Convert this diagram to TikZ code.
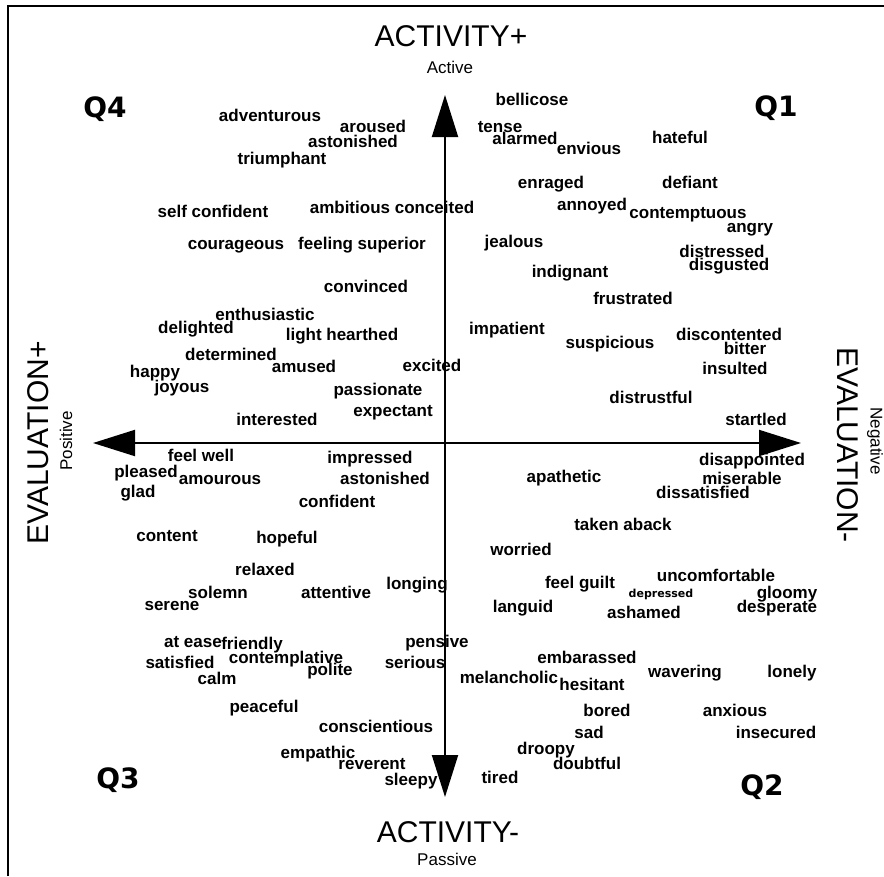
\documentclass[tikz,border=0pt]{standalone}
\usepackage{fontspec}
\setmainfont{Liberation Sans}
\newfontfamily\quadfont{DejaVu Sans}
\usetikzlibrary{arrows.meta}
\tikzset{
        word/.style={font=\bfseries\fontsize{17}{17}\selectfont, anchor=base, inner sep=0pt},
        small word/.style={font=\quadfont\bfseries\fontsize{11}{11}\selectfont, anchor=base, inner sep=0pt},
        quad label/.style={font=\quadfont\bfseries\fontsize{28}{28}\selectfont, anchor=base, inner sep=0pt},
        axis label/.style={font=\fontsize{30}{30}\selectfont, inner sep=0pt},
        pole label/.style={font=\fontsize{17}{17}\selectfont, inner sep=0pt},
        axis/.style={line width=2pt, {Triangle[length=42pt,width=26pt]}-{Triangle[length=42pt,width=26pt]}}
    }

\begin{document}
\begin{tikzpicture}[x=1pt, y=-1pt]
\useasboundingbox (0,0) rectangle (884,876);
% frame: only top and left edges are drawn
\draw[line width=2.2pt] (8,876) -- (8,6) -- (884,6);
% the two axes
\coordinate (west)  at (93,443);
\coordinate (east)  at (801,443);
\coordinate (north) at (445,95);
\coordinate (south) at (445,797);
\draw[axis] (west) -- (east);
\draw[axis] (south) -- (north);
% axis names
\node[axis label] (actplus)  at (451,36)  {ACTIVITY+};
\node[pole label] (active)   at (450,67)  {Active};
\node[axis label] (actminus) at (448,832) {ACTIVITY-};
\node[pole label] (passive)  at (447,859) {Passive};
\node[axis label, rotate=90]  (evalplus)  at (38,443)  {EVALUATION+};
\node[pole label, rotate=90]  (positive)  at (66,441)  {Positive};
\node[axis label, rotate=-90] (evalminus) at (848,445) {EVALUATION-};
\node[pole label, rotate=-90] (negative)  at (875,441) {Negative};
% quadrant names
\node[quad label] (q1) at (776,116) {Q1};
\node[quad label] (q2) at (762,795) {Q2};
\node[quad label] (q3) at (118,788) {Q3};
\node[quad label] (q4) at (105,117) {Q4};
% Q4: active and positive
\foreach \x/\y/\w [count=\i] in {270/121/adventurous, 373/132/aroused, 353/147/astonished,
    282/164/triumphant, 213/217/self confident, 392/213/ambitious conceited, 236/249/courageous,
    362/249/feeling superior, 366/292/convinced, 265/320/enthusiastic, 196/333/delighted,
    342/340/light hearthed, 231/360/determined, 155/377/happy, 182/392/joyous, 304/372/amused,
    432/371/excited, 378/395/passionate, 393/416/expectant, 277/425/interested}
  \node[word] (fourth\i) at (\x,\y) {\w};
% Q1: active and negative
\foreach \x/\y/\w [count=\i] in {532/105/bellicose, 500/132/tense, 525/144/alarmed, 589/154/envious,
    680/143/hateful, 551/188/enraged, 690/188/defiant, 592/210/annoyed, 688/218/contemptuous,
    750/232/angry, 514/247/jealous, 722/257/distressed, 729/270/disgusted, 570/277/indignant,
    633/304/frustrated, 507/334/impatient, 610/348/suspicious, 729/340/discontented, 745/354/bitter,
    735/374/insulted, 651/403/distrustful, 756/425/startled}
  \node[word] (first\i) at (\x,\y) {\w};
% Q3: passive and positive
\foreach \x/\y/\w [count=\i] in {201/461/feel well, 146/477/pleased, 220/484/amourous, 138/497/glad,
    370/463/impressed, 385/484/astonished, 337/507/confident, 167/541/content, 287/543/hopeful,
    265/575/relaxed, 218/598/solemn, 172/610/serene, 336/598/attentive, 417/589/longing,
    193/647/at ease, 252/649/friendly, 180/668/satisfied, 286/663/contemplative, 330/675/polite,
    217/684/calm, 437/647/pensive, 415/668/serious, 264/712/peaceful, 376/732/conscientious,
    318/758/empathic, 372/769/reverent, 411/785/sleepy}
  \node[word] (third\i) at (\x,\y) {\w};
% Q2: passive and negative
\foreach \x/\y/\w [count=\i] in {752/465/disappointed, 564/482/apathetic, 742/484/miserable,
    703/498/dissatisfied, 623/530/taken aback, 521/555/worried, 580/588/feel guilt,
    716/581/uncomfortable, 787/598/gloomy, 523/612/languid, 644/618/ashamed, 777/612/desperate,
    587/663/embarassed, 685/677/wavering, 792/677/lonely, 509/683/melancholic, 592/690/hesitant,
    607/716/bored, 735/716/anxious, 589/738/sad, 776/738/insecured, 546/754/droopy,
    587/769/doubtful, 500/783/tired}
  \node[word] (second\i) at (\x,\y) {\w};
\node[small word] (depressed) at (661,597) {depressed};
\end{tikzpicture}
\end{document}
